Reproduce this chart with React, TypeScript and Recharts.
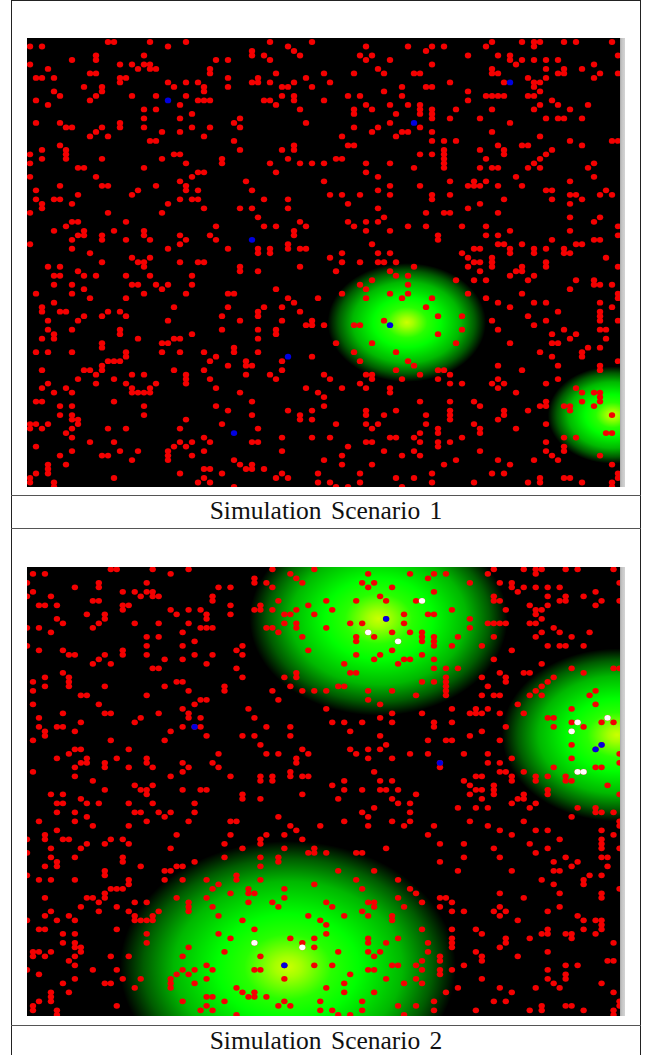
import React from "react";
import { ScatterChart, Scatter, XAxis, YAxis } from "recharts";

// Grid cell indices: redRows[row] = columns holding a red node.
const redRows: number[][] = [
  [13,14,20,26,40,47,77,82,84,85,89,91,97],
  [0,2,23,43,56,63,67,69,76,84],
  [37,44,66],
  [11,19,37,39,45,55,57,73,78,80,98],
  [7,11,31,33,40,56,60,80,82,84,86,88],
  [0,15,17,19,20,67,81,94],
  [3,18,20,21,30,58,77,86,89,92],
  [10,11,30,41,49,54,59,64,65,77,78,88,89,95,98],
  [1,2,4,15,16,33,38,46,83,86,94],
  [15,23,26,28,37,38,40,44,50,70,79,84,85],
  [9,12,24,29,33,42,43,47,62,66,67,84],
  [4,12,29,59,73,85],
  [5,11,17,21,26,42,44,53,55,62,76,77,78,79,83,84],
  [1,10,28,29,30,39,40,44,49,73,87],
  [3,25,41,56,60,63,65,85,88,93],
  [19,21,45,54,57,65,67,71,77,84,90],
  [27,54,61,65,67],
  [19,25,35,67,70,75,86,88,89,92],
  [1,5,15,34,46,60,80],
  [6,7,12,15,19,27,30,35,54,58,65],
  [11,22,25,57,62,63,67,77],
  [10,13,29,52,61,85],
  [20,21,34,67,69,71,90,97,98],
  [5,44,53,54,78,82,83,92],
  [2,6,35,42,44,69,75,79,87],
  [0,6,24,25,65,67,69,79,86],
  [2,6,12,22,32,43,51,52,69,76,85],
  [0,26,32,40,45,47,49,56,60,69,84,94],
  [8,9,19,64,69,75,77,78,83,85,93],
  [28,29,41,56],
  [0,11,27,58,81,94],
  [25,36,49,70,74,76,90],
  [5,12,13,21,26,60,65,73,74,75,78,82],
  [1,18,26,28,37,58,86,87,96],
  [8,17,50,52,55,60,67,70,90,91,95,97],
  [1,4,5,25,27,28,39,43,67,79,87,92],
  [2,7,23,53,75,90],
  [2,29,35,37,43,58,73],
  [0,13,22,66,69,70,78],
  [38,59,90,95],
  [7,8,16,45,53,56,58,94],
  [6,31,39,41,46,54,63,66,72,76,98],
  [4,9,14,19,44,56,60,80,90],
  [8,9,12,19,25,30,44,68,76,78,98],
  [7,12,16,20,26,31,68,87,94,95],
  [0,25,43,57,78,79,82,91,92],
  [7,23,33,38,40,43,45,46,74,75,80,84,86,89],
  [10,38,40,52,58,60,72,80,84,89,90],
  [17,20,50,73,77,96],
  [12,18,19,25,28,29,52,55,58,59,61,74,75,77,86],
  [3,5,19,35,45,64,73,77,82,86,98],
  [8,35,38,51,60,75,81,82],
  [4,5,9,11,16,20,27,61,63,80,84],
  [57,71,74,76,83,91,94],
  [4,7,17,18,21,23,27,55,63,94,95,97],
  [9,22,41,56,90],
  [1,7,19,26,33,34,52,60,63,73,82,98],
  [10,16,43,48,56,62,67,76,98],
  [4,44,78,84,86,95],
  [2,24,33,39,42,66,80,97],
  [2,5,6,13,15,38,45,88,95],
  [9,12,16,32,38,68,72,83,95],
  [3,8,23,35,42,47,59,77,86,95,98],
  [46,47,49,54,55,84],
  [3,7,15,32,38,41,72,78,89,95,96],
  [4,15,27,41,68,87,91],
  [2,4,18,24,25,38,90,96],
  [12,22,23,51,57,71,80,87,88],
  [12,34,93,95],
  [1,3,7,16,22,25,29,34,38,54,61,85,92],
  [16,31,47,87,92],
  [13,14,15,30,36,42,55,63,98],
  [12,33,36,37,64,78,88,95],
  [2,9,10,12,24,29,42,61,68,69,82,95],
  [11,17,19,26,36,40,49,56,57,65,70],
  [8,14,26,30,41,50,57,62,68,78,88],
  [3,11,16,21,26,55,70,72,77,79,86],
  [2,6,17,20,31,46,52,56,60,78,91],
  [4,7,17,18,19,20,35,48,60,81,92,94,95],
  [49,95],
  [1,2,14,37,65,70,74,86,92,95],
  [5,7,19,31,49,75,85,86,89,90,94],
  [33,43,47,56,61,70,79,83,90],
  [5,7,19,37,45,56,59,66,70,79,97],
  [7,8,26,45,47,70,78],
  [0,1,3,8,32,51,56,58,66,74,86],
  [0,2,7,13,16,25,38,57,68,75,81],
  [6,65,68,75,96,97],
  [7,29,42,47,50,60,61,64,72,89,91],
  [10,14,25,27,30,37,38,56,57,65,68,70,86],
  [1,24,26,53,68,89],
  [7,15,18,23,29,42,59,64,75,86,89],
  [5,12,13,23,27,52,62,65,87,95],
  [17,23,34,49,71,78,84,88],
  [3,6,35,37,52,57,69,80,97],
  [3,29,30,36,37,39],
  [1,3,25,32,42,48,55,67,77,79,98],
  [0,14,29,41,43,61,64,85,89,90,98],
  [0,4,28,30,48,50,55,67,74,83,85,92,97],
  [4,34,51,53,62,97],
];

// Rows whose node sits just past the left edge in the second scenario.
const edgeRows2 = [3, 6, 13, 17, 60, 63, 68, 78, 89];

const blue1 = [{ x: 23, y: 13 }, { x: 37, y: 44 }, { x: 80, y: 9 }, { x: 64, y: 18 }, { x: 43, y: 70 }, { x: 34, y: 87 }, { x: 60, y: 63 }];
const zones1 = [{ x: 62.8, y: 62.4, r: 13.2 }, { x: 97.1, y: 83, r: 10.8 }];

const blue2 = [{ x: 27, y: 35 }, { x: 59, y: 11 }, { x: 68, y: 43 }, { x: 95, y: 39 }, { x: 94, y: 40 }, { x: 42, y: 88 }];
const white2 = [{ x: 65, y: 7 }, { x: 56, y: 14 }, { x: 61, y: 16 }, { x: 91, y: 34 }, { x: 90, y: 36 }, { x: 96, y: 33 }, { x: 91, y: 45 }, { x: 92, y: 45 }, { x: 37, y: 83 }, { x: 45, y: 84 }];
const zones2 = [{ x: 57.75, y: 11, r: 21.5 }, { x: 97.6, y: 36.8, r: 19.2 }, { x: 42.6, y: 88.4, r: 28 }];

const captions = ["Simulation Scenario 1", "Simulation Scenario 2"];

const redCells = redRows.flatMap((cols, row) => cols.map((col) => ({ x: col, y: row })));
const red1 = redCells;
const red2 = [...redCells, ...edgeRows2.map((row) => ({ x: -1, y: row }))];

const CELL_W = 6;
const CELL_H = 4.5;

const node = (fill: string) => (p: any) => (
  <ellipse cx={p.cx} cy={p.cy} rx={3.2} ry={2.9} fill={fill} />
);

const zoneShape = (id: string) => (p: any) => (
  <ellipse cx={p.cx} cy={p.cy} rx={p.payload.r * CELL_W} ry={p.payload.r * CELL_H} fill={`url(#${id})`} />
);

function Field({ id, xDomain, yDomain, zones, red, blue, white, top, height }: any) {
  return (
    <div style={{ position: "absolute", left: 27, top, width: 593, height, background: "#000" }}>
      <ScatterChart width={593} height={height} margin={{ top: 0, right: 0, bottom: 0, left: 0 }}>
        <defs>
          <radialGradient id={id}>
            <stop offset="0%" stopColor="#ccff00" />
            <stop offset="8%" stopColor="#a4ff00" />
            <stop offset="26%" stopColor="#28ff00" />
            <stop offset="42%" stopColor="#00ff00" />
            <stop offset="68%" stopColor="#00b800" />
            <stop offset="86%" stopColor="#005c00" />
            <stop offset="100%" stopColor="#000000" />
          </radialGradient>
        </defs>
        <XAxis type="number" dataKey="x" domain={xDomain} hide />
        <YAxis type="number" dataKey="y" domain={yDomain} reversed hide />
        <Scatter data={zones} shape={zoneShape(id)} isAnimationActive={false} />
        <Scatter data={red} shape={node("#f40000")} isAnimationActive={false} />
        {white.length > 0 && <Scatter data={white} shape={node("#ffffff")} isAnimationActive={false} />}
        <Scatter data={blue} shape={node("#0000e0")} isAnimationActive={false} />
      </ScatterChart>
    </div>
  );
}

const line = (style: React.CSSProperties, color = "#222") => (
  <div style={{ position: "absolute", background: color, ...style }} />
);

const Caption = ({ text, top }: { text: string; top: number }) => (
  <div
    style={{
      position: "absolute",
      left: 12,
      width: 628,
      top,
      textAlign: "center",
      fontFamily: '"Liberation Serif", serif',
      fontSize: 25.5,
      lineHeight: "24px",
      color: "#111",
      wordSpacing: 3,
      whiteSpace: "nowrap",
    }}
  >
    {text}
  </div>
);

const Strip = ({ top, height }: { top: number; height: number }) => (
  <div
    style={{
      position: "absolute",
      left: 620,
      top,
      width: 5,
      height,
      background: "linear-gradient(to right, #a8a8a8 0%, #c4c4c4 35%, #d4d4d4 100%)",
    }}
  />
);

export default function App() {
  return (
    <div style={{ position: "absolute", left: 0, top: 0, width: 646, height: 1055, background: "#fff", overflow: "hidden" }}>
      {line({ left: 11, top: 0, width: 1.2, height: 1055 })}
      {line({ left: 640, top: 0, width: 1.2, height: 1055 })}
      {line({ left: 11, top: 0, width: 630, height: 1 })}
      {line({ left: 11, top: 495, width: 630, height: 1.4 }, "#555")}
      {line({ left: 11, top: 528, width: 630, height: 1.4 }, "#555")}
      {line({ left: 11, top: 1025, width: 630, height: 1.4 }, "#555")}
      <Field id="z1" top={38} height={449} xDomain={[-0.5, 98.33]} yDomain={[-0.89, 98.89]} zones={zones1} red={red1} blue={blue1} white={[]} />
      <Strip top={38} height={449} />
      <Caption text={captions[0]} top={499} />
      <Field id="z2" top={567} height={449} xDomain={[-0.75, 98.08]} yDomain={[-0.51, 99.27]} zones={zones2} red={red2} blue={blue2} white={white2} />
      <Strip top={567} height={449} />
      <Caption text={captions[1]} top={1029} />
    </div>
  );
}
